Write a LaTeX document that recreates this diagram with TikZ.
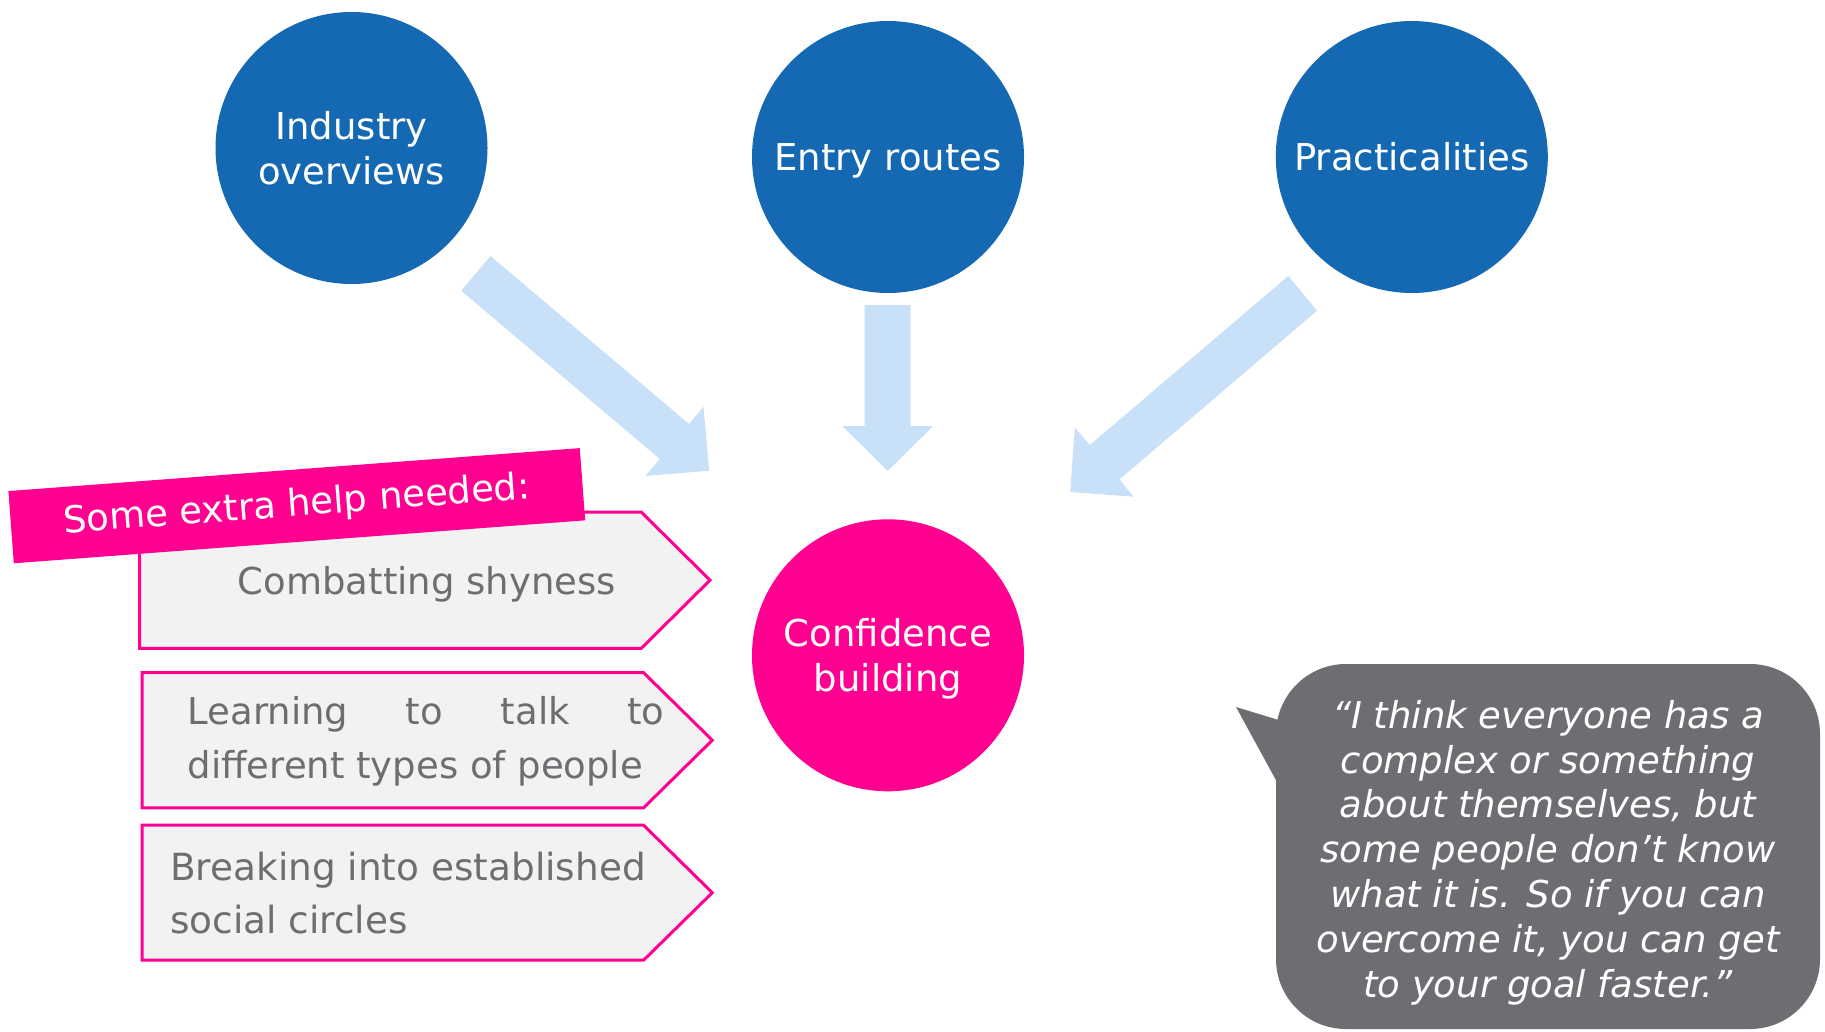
\documentclass[tikz,border=0pt]{standalone}
\usepackage{fontspec}
\setmainfont{DejaVu Sans}
\definecolor{cblue}{HTML}{1569B3}
\definecolor{carrow}{HTML}{C9E1F8}
\definecolor{cpink}{HTML}{FF0090}
\definecolor{cbubble}{HTML}{6D6E71}
\definecolor{cfill}{HTML}{F2F2F2}
\definecolor{ctext}{HTML}{6D6E71}
\tikzset{
  topic/.style={circle, fill=cblue, minimum size=272pt, inner sep=0pt, text=white, align=center, font=\fontsize{37}{45}\selectfont},
  conf/.style={topic, fill=cpink},
  blockarrow/.style={fill=carrow, draw=none},
  chev/.style={fill=cfill, draw=cpink, line width=3pt, line join=miter},
  chevtext/.style={text=ctext, inner sep=0pt, align=left, font=\fontsize{37}{53.5}\selectfont},
  banner/.style={fill=cpink, text=white, minimum width=573pt, minimum height=72.4pt, inner sep=0pt, font=\fontsize{37}{44}\selectfont},
  bubble/.style={fill=cbubble, rounded corners=70pt, minimum width=544pt, minimum height=365pt, inner sep=0pt},
  quotetext/.style={text=white, align=center, inner sep=0pt, font=\fontsize{37}{44.8}\selectfont\itshape}
}
\begin{document}
\begin{tikzpicture}[x=1pt,y=-1pt]
\useasboundingbox (0,0) rectangle (1825,1031);
% block arrows
\fill[blockarrow] (490.5,256) -- (689.1,424) -- (703.5,406.7) -- (709.2,470.7) -- (645.5,476) -- (659.8,459) -- (461.2,290.7) -- cycle;
\fill[blockarrow] (864.7,305) -- (910.7,305) -- (910.7,426) -- (933.1,426) -- (887.7,471) -- (842.4,426) -- (864.7,426) -- cycle;
\fill[blockarrow] (1288.3,276) -- (1089.8,445) -- (1074.8,427.7) -- (1070.2,492) -- (1133.4,496.7) -- (1119.6,479.3) -- (1317.1,310.7) -- cycle;
% circles
\node[topic] (ind) at (351.5,148) {Industry\\overviews};
\node[topic] (entry) at (888,157) {\raisebox{0pt}[\height][0pt]{Entry routes}};
\node[topic] (prac) at (1411.8,157) {Practicalities};
\node[conf] (conf) at (888,655.3) {Confidence\\\raisebox{0pt}[\height][0pt]{building}};
% chevrons
\path[chev] (139.7,512.1) -- (641.3,512.1) -- (710,580.2) -- (641.3,648.3) -- (139.7,648.3) -- cycle;
\path[chev] (142,672.7) -- (643.6,672.7) -- (712.3,740.2) -- (643.6,807.8) -- (142,807.8) -- cycle;
\path[chev] (142,825.2) -- (643.6,825.2) -- (712.3,892.7) -- (643.6,960.2) -- (142,960.2) -- cycle;
\node[chevtext] (t1) at (427,584) {Combatting shyness};
\node[chevtext, anchor=west] (t2) at (187.4,741.5) {\makebox[477pt][s]{Learning to talk to}\\different types of people};
\node[chevtext, anchor=west, font=\fontsize{37.4}{53.5}\selectfont] (t3) at (170,893) {Breaking into established\\social circles};
% banner
\node[banner, rotate=4.3] (help) at (296.8,505.7) {Some extra help needed:};
% speech bubble
\node[bubble] (quote) at (1548,846.5) {};
\coordinate (tail) at (1236,707);
\fill[cbubble] (tail) -- (1295,725) -- (1295,815) -- cycle;
\node[quotetext] (qt) at (1548,852.5) {“I think everyone has a\\complex or something\\about themselves, but\\some people don’t know\\what it is. So if you can\\overcome it, you can get\\to your goal faster.”};
\end{tikzpicture}
\end{document}
